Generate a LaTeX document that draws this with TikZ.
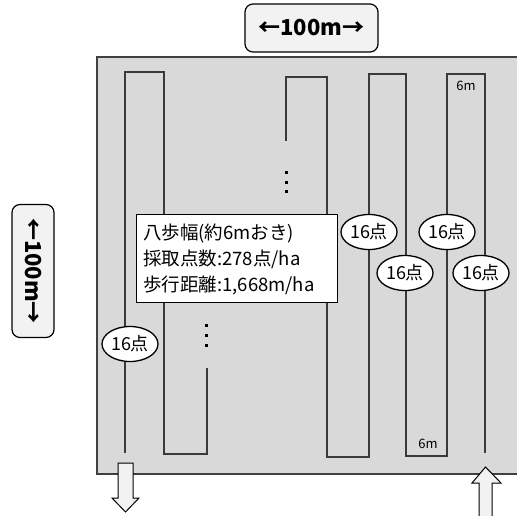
\documentclass[tikz,border=0pt]{standalone}
\usepackage{fontspec}
\setmainfont{Noto Sans CJK JP}
\usetikzlibrary{shapes.geometric}
\definecolor{fieldgray}{HTML}{D9D9D9}
\definecolor{boxgray}{HTML}{F2F2F2}
\definecolor{walkline}{HTML}{3A3A3A}
\tikzset{
  labelbox/.style={draw=black, line width=1.2pt, fill=boxgray, rounded corners=8pt, inner sep=0pt, font=\fontsize{22}{24}\selectfont\bfseries},
  countnode/.style={ellipse, draw=black, line width=1.3pt, fill=white, minimum width=56pt, minimum height=35pt, inner sep=0pt, font=\fontsize{18}{20}\selectfont},
  walk/.style={draw=walkline, line width=1.2pt},
  dotmark/.style={fill=black},
  bigarrow/.style={draw=black, line width=1pt, fill=boxgray},
  meter/.style={font=\fontsize{13}{15}\selectfont, inner sep=0pt},
  infobox/.style={draw=black, line width=1pt, fill=white, inner sep=0pt}
}
\begin{document}
\begin{tikzpicture}[x=1pt,y=-1pt]
\useasboundingbox (0,0) rectangle (517,515);
\begin{scope}
\clip (0,0) rectangle (517,515);
% field
\fill[fieldgray] (97,57) rectangle (530,474);
\draw[draw=black!75, line width=1.6pt] (530,57) -- (97,57) -- (97,474) -- (530,474);
% walking path
\draw[walk] (485,453) -- (485,74) -- (447,74) -- (447,456) -- (406,456) -- (406,74)
  -- (369,74) -- (369,457) -- (327,457) -- (327,77) -- (286,77) -- (286,141);
\draw[walk] (207,368) -- (207,454) -- (164,454) -- (164,72) -- (125,72) -- (125,453);
% dots
\foreach \yy in {171,181,190} \fill[dotmark] (284.5,\yy) rectangle ++(3,3);
\foreach \yy in {324,334,344} \fill[dotmark] (204.5,\yy) rectangle ++(3,3);
% 6m labels
\node[meter] (m6top) at (466,86) {6m};
\node[meter] (m6bot) at (428,444) {6m};
% info box
\node[infobox, minimum width=201pt, minimum height=88pt] (info) at (236.5,258) {};
\node[anchor=west, inner sep=0pt, font=\fontsize{18.5}{26}\selectfont, align=left] (infotext) at (143,259)
  {八歩幅(約6mおき)\\採取点数:278点/ha\\歩行距離:1,668m/ha};
% count ellipses
\node[countnode] (c1) at (369,232) {16点};
\node[countnode] (c2) at (447,232) {16点};
\node[countnode] (c3) at (405,273) {16点};
\node[countnode] (c4) at (481,273) {16点};
\node[countnode] (c5) at (130,344) {16点};
% arrows
\draw[bigarrow] (118,463) -- (133,463) -- (133,498) -- (139,498) -- (125.5,512)
  -- (112,498) -- (118,498) -- cycle;
\draw[bigarrow] (479,530) -- (479,483) -- (472,483) -- (485.5,467) -- (501,483)
  -- (492,483) -- (492,530);
% labels
\node[labelbox, minimum width=133pt, minimum height=48pt] (topw) at (311.5,28) {←100m→};
\node[labelbox, minimum width=133pt, minimum height=42pt, rotate=-90] (lefth) at (33,271) {←100m→};
\end{scope}
\end{tikzpicture}
\end{document}
